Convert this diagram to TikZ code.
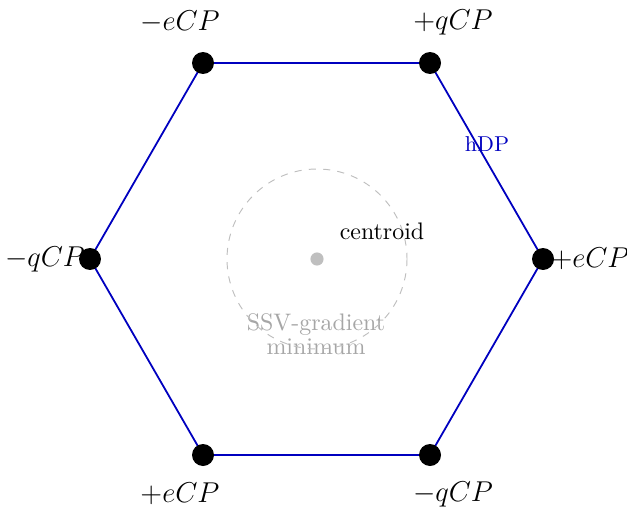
\documentclass[tikz,border=0pt]{standalone}
\begin{document}
\begin{tikzpicture}[x=0.4184pt,y=-0.4184pt,
  vert/.style={circle,fill=black,inner sep=0pt,minimum size=9.2pt},
  edge/.style={draw=blue!75!black,line width=0.75pt},
  lbl/.style={font=\large},
  graytxt/.style={text=black!35,align=center,inner sep=0pt}]
\useasboundingbox (0,0) rectangle (627,508);
\coordinate (c) at (317,259);
% center annotation
\node[graytxt] (ssv) at (316,334) {SSV-gradient\\[-2pt]minimum};
\draw[black!25,dashed,line width=0.4pt] (c) circle[radius=90];
\node[circle,fill=black!25,inner sep=0pt,minimum size=5.5pt] (cd) at (c) {};
\node (cen) at (382,231) {centroid};
% hDP label (behind edge)
\node[text=blue!75!black,font=\small] (hdp) at (487,144) {hDP};
% vertices
\coordinate (v1) at (203,63);
\coordinate (v2) at (430,63);
\coordinate (v3) at (543,259);
\coordinate (v4) at (430,455);
\coordinate (v5) at (203,455);
\coordinate (v6) at (90,259);
\draw[edge] (v1) -- (v2) -- (v3) -- (v4) -- (v5) -- (v6) -- cycle;
\foreach \v in {v1,v2,v3,v4,v5,v6}{\node[vert] (n\v) at (\v) {};}
\node[lbl] (l1) at (180,22) {$-eCP$};
\node[lbl] (l2) at (453,22) {$+qCP$};
\node[lbl] (l3) at (590,259) {$+eCP$};
\node[lbl] (l4) at (453,494) {$-qCP$};
\node[lbl] (l5) at (180,494) {$+eCP$};
\node[lbl] (l6) at (45,259) {$-qCP$};
\end{tikzpicture}
\end{document}
